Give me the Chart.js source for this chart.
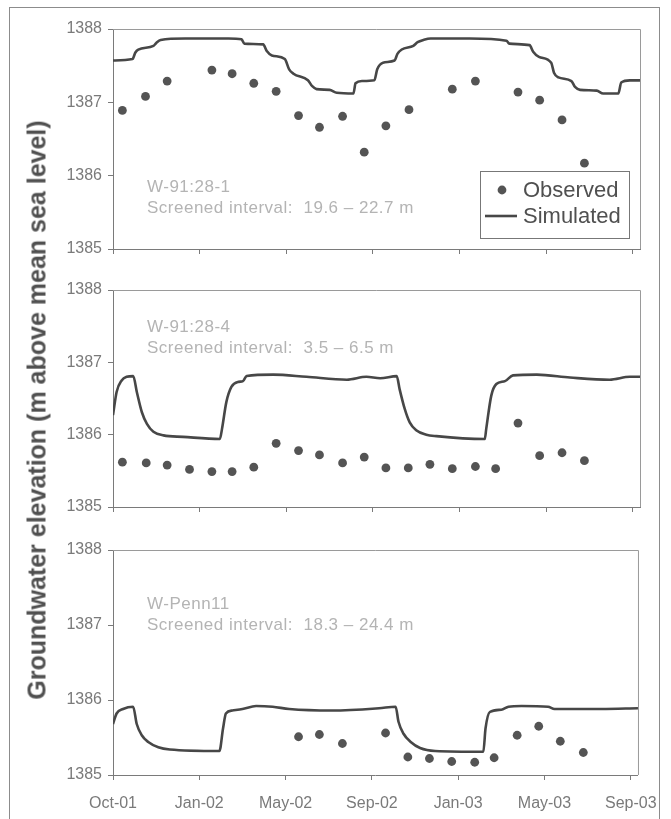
<!DOCTYPE html>
<html>
<head>
<meta charset="utf-8">
<script src="https://cdn.jsdelivr.net/npm/chart.js@4/dist/chart.umd.min.js"></script>
<style>
  html, body { margin: 0; padding: 0; background: #fff; width: 671px; height: 819px; overflow: hidden; }
  #frame { position: absolute; left: 9px; top: 7px; width: 651px; height: 840px; border: 1px solid #8c8c8c; box-sizing: border-box; }
  .panel { position: absolute; left: 0; }
  #ytitle { position: absolute; left: 37px; top: 410px; transform: translate(-50%, -50%) rotate(-90deg);
            white-space: nowrap; font: bold 25px "Liberation Sans", Arial, sans-serif; color: #505050; }
</style>
</head>
<body>
<div id="frame"></div>
<canvas id="c1" class="panel" width="671" height="265" style="top:0px"></canvas>
<canvas id="c2" class="panel" width="671" height="268" style="top:255px"></canvas>
<canvas id="c3" class="panel" width="671" height="306" style="top:513px"></canvas>
<div id="ytitle">Groundwater elevation (m above mean sea level)</div>

<script>
// Time axis: days since 1 Oct 2001, labelled every 120 days
const tickLabels = ['Oct-01', 'Jan-02', 'May-02', 'Sep-02', 'Jan-03', 'May-03', 'Sep-03'];
const tickStepDays = 120;
const axisEndDay = 730;

const wellNames = ['W-91:28-1', 'W-91:28-4', 'W-Penn11'];
const screenedIntervals = ['19.6 \u2013 22.7 m', '3.5 \u2013 6.5 m', '18.3 \u2013 24.4 m'];

// W-91:28-1
const obs1Days = [13, 45, 75, 137, 165, 195, 226, 257, 286, 318, 348, 378, 410, 470, 502, 561, 591, 622, 653];
const obs1Vals = [1386.89, 1387.08, 1387.29, 1387.44, 1387.39, 1387.26, 1387.15, 1386.82, 1386.66, 1386.81,
                  1386.32, 1386.68, 1386.90, 1387.18, 1387.29, 1387.14, 1387.03, 1386.76, 1386.17];
const sim1Days = [0, 27, 31, 35, 56, 60, 66, 100, 160, 178, 182, 208, 213, 220, 238, 244, 250, 270, 276, 282,
                  300, 310, 333, 336, 345, 362, 366, 374, 390, 394, 400, 416, 422, 430, 440, 494, 545, 549, 577, 582,
                  590, 607, 611, 617, 635, 640, 647, 670, 679, 700, 704, 716, 730];
const sim1Vals = [1387.57, 1387.59, 1387.68, 1387.72, 1387.77, 1387.81, 1387.85, 1387.87, 1387.87, 1387.86,
                  1387.80, 1387.79, 1387.70, 1387.64, 1387.59, 1387.45, 1387.39, 1387.30, 1387.22, 1387.18,
                  1387.17, 1387.13, 1387.12, 1387.26, 1387.29, 1387.30, 1387.45, 1387.54, 1387.57, 1387.66,
                  1387.72, 1387.77, 1387.82, 1387.85, 1387.87, 1387.87, 1387.84, 1387.80, 1387.78, 1387.69,
                  1387.62, 1387.54, 1387.40, 1387.34, 1387.29, 1387.21, 1387.17, 1387.16, 1387.12, 1387.12,
                  1387.27, 1387.30, 1387.30];

// W-91:28-4
const obs2Days = [13, 46, 75, 106, 137, 165, 195, 226, 257, 286, 318, 348, 378, 409, 439, 470, 502, 530, 561, 591, 622, 653];
const obs2Vals = [1385.62, 1385.61, 1385.58, 1385.52, 1385.49, 1385.49, 1385.55, 1385.88, 1385.78, 1385.72, 1385.61,
                  1385.69, 1385.54, 1385.54, 1385.59, 1385.53, 1385.56, 1385.53, 1386.16, 1385.71, 1385.75, 1385.64];
const sim2Days = [0, 5, 12, 19, 28, 33, 40, 47, 56, 70, 97, 148, 151, 157, 164, 174, 180, 185, 222, 268,
                  324, 351, 370, 393, 397, 404, 411, 420, 434, 448, 515, 517, 524, 531, 543, 554, 587, 633, 688, 716, 730];
const sim2Vals = [1386.27, 1386.59, 1386.75, 1386.80, 1386.81, 1386.59, 1386.31, 1386.15, 1386.04, 1385.99,
                  1385.97, 1385.94, 1386.08, 1386.45, 1386.66, 1386.73, 1386.74, 1386.81, 1386.83, 1386.80,
                  1386.76, 1386.80, 1386.78, 1386.81, 1386.63, 1386.36, 1386.17, 1386.06, 1386.00, 1385.98,
                  1385.94, 1386.08, 1386.54, 1386.70, 1386.74, 1386.82, 1386.83, 1386.79, 1386.76, 1386.80, 1386.80];

// W-Penn11
const obs3Days = [258, 287, 319, 379, 410, 440, 471, 503, 530, 562, 592, 622, 654];
const obs3Vals = [1385.51, 1385.54, 1385.42, 1385.56, 1385.24, 1385.22, 1385.18, 1385.17, 1385.23, 1385.53,
                  1385.65, 1385.45, 1385.30];
const sim3Days = [0, 5, 14, 28, 33, 40, 49, 63, 79, 148, 153, 157, 166, 180, 199, 222, 245, 305, 370, 393,
                  397, 404, 414, 427, 448, 515, 518, 524, 540, 550, 568, 605, 614, 679, 730];
const sim3Vals = [1385.68, 1385.82, 1385.88, 1385.91, 1385.68, 1385.53, 1385.44, 1385.37, 1385.34, 1385.32,
                  1385.62, 1385.82, 1385.86, 1385.88, 1385.92, 1385.91, 1385.88, 1385.86, 1385.89, 1385.91,
                  1385.71, 1385.55, 1385.44, 1385.36, 1385.32, 1385.31, 1385.62, 1385.84, 1385.87, 1385.91,
                  1385.92, 1385.91, 1385.88, 1385.88, 1385.89];

const FONT = '"Liberation Sans", Arial, Helvetica, sans-serif';
const AXIS = '#7a7a7a';

const toXY = (days, vals) => days.map((d, i) => ({ x: d, y: vals[i] }));

// Plot-area top/right border, well annotation and (optionally) the legend box
const panelDecor = {
  id: 'panelDecor',
  afterDraw(chart, args, o) {
    const { ctx, chartArea: a } = chart;
    ctx.save();
    ctx.strokeStyle = '#9a9a9a';
    ctx.lineWidth = 1;
    ctx.beginPath();
    ctx.moveTo(a.left, a.top + 0.5);
    ctx.lineTo(a.right + 0.5, a.top + 0.5);
    ctx.lineTo(a.right + 0.5, a.bottom);
    ctx.stroke();

    ctx.fillStyle = '#b4b4b4';
    ctx.font = '17px ' + FONT;
    if ('letterSpacing' in ctx) ctx.letterSpacing = '0.5px';
    ctx.textBaseline = 'middle';
    ctx.textAlign = 'left';
    ctx.fillText(o.well, a.left + 34, a.top + o.y1);
    ctx.fillText('Screened interval:  ' + o.interval, a.left + 34, a.top + o.y2);
    if ('letterSpacing' in ctx) ctx.letterSpacing = '0px';

    if (o.legend) {
      const w = 149, h = 67;
      const bx = a.right - 11 - w, by = a.bottom - 11 - h;
      ctx.fillStyle = '#fff';
      ctx.fillRect(bx, by, w, h);
      ctx.strokeStyle = '#777';
      ctx.strokeRect(bx + 0.5, by + 0.5, w, h);
      const ds = chart.data.datasets;
      ctx.font = '22px ' + FONT;
      // Observed marker
      ctx.beginPath();
      ctx.arc(bx + 22, by + 19, ds[0].pointRadius, 0, Math.PI * 2);
      ctx.fillStyle = ds[0].pointBackgroundColor;
      ctx.fill();
      // Simulated marker
      ctx.strokeStyle = ds[1].borderColor;
      ctx.lineWidth = ds[1].borderWidth;
      ctx.beginPath();
      ctx.moveTo(bx + 5, by + 45);
      ctx.lineTo(bx + 37, by + 45);
      ctx.stroke();
      ctx.fillStyle = '#505050';
      ctx.fillText(ds[0].label, bx + 43, by + 20);
      ctx.fillText(ds[1].label, bx + 43, by + 46);
    }
    ctx.restore();
  }
};

function makePanel(id, obsDays, obsVals, simDays, simVals, cfg) {
  return new Chart(document.getElementById(id), {
    type: 'line',
    data: {
      datasets: [
        { label: 'Observed', data: toXY(obsDays, obsVals), showLine: false,
          pointRadius: 4.4, pointBackgroundColor: '#545454', pointBorderWidth: 0, borderColor: '#545454' },
        { label: 'Simulated', data: toXY(simDays, simVals), pointRadius: 0,
          borderColor: '#474747', borderWidth: 2.6, cubicInterpolationMode: 'monotone', fill: false }
      ]
    },
    options: {
      responsive: false,
      animation: false,
      events: [],
      layout: { padding: { left: 0, right: 31, top: cfg.padTop, bottom: 0 } },
      plugins: {
        legend: { display: false },
        tooltip: { enabled: false },
        panelDecor: cfg.decor
      },
      scales: {
        x: {
          type: 'linear',
          min: 0,
          max: axisEndDay,
          afterBuildTicks: s => { s.ticks = tickLabels.map((_, i) => ({ value: i * tickStepDays })); },
          afterFit: s => { s.height = cfg.xHeight; },
          border: { display: true, color: AXIS, width: 1 },
          grid: { drawOnChartArea: false, drawTicks: true, tickLength: 5, color: AXIS },
          ticks: {
            autoSkip: false, maxRotation: 0, padding: 14,
            color: '#7a7a7a', font: { family: FONT, size: 16 },
            callback: v => cfg.showX ? tickLabels[Math.round(v / tickStepDays)] : ''
          }
        },
        y: {
          min: 1385,
          max: 1388,
          afterFit: s => { s.width = 113; },
          border: { display: true, color: AXIS, width: 1 },
          grid: { drawOnChartArea: false, drawTicks: true, tickLength: 5, color: AXIS },
          ticks: {
            stepSize: 1, padding: 6,
            color: '#7a7a7a', font: { family: FONT, size: 16 },
            callback: v => String(v)
          }
        }
      }
    },
    plugins: [panelDecor]
  });
}

makePanel('c1', obs1Days, obs1Vals, sim1Days, sim1Vals, {
  padTop: 29, xHeight: 16, showX: false,
  decor: { well: wellNames[0], interval: screenedIntervals[0], y1: 158.5, y2: 179, legend: true }
});
makePanel('c2', obs2Days, obs2Vals, sim2Days, sim2Vals, {
  padTop: 35, xHeight: 16, showX: false,
  decor: { well: wellNames[1], interval: screenedIntervals[1], y1: 37.5, y2: 58, legend: false }
});
makePanel('c3', obs3Days, obs3Vals, sim3Days, sim3Vals, {
  padTop: 37, xHeight: 44, showX: true,
  decor: { well: wellNames[2], interval: screenedIntervals[2], y1: 54, y2: 75, legend: false }
});
</script>
</body>
</html>
